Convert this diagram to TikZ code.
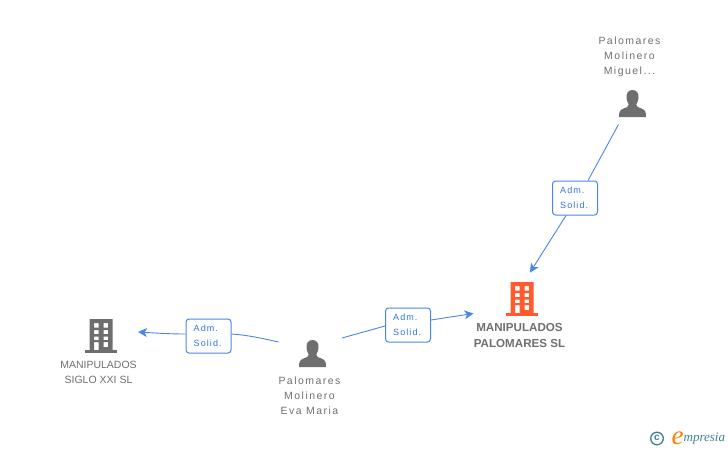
\documentclass[tikz,border=0pt]{standalone}
\usepackage{fontspec}
\setmainfont{Liberation Sans}
\newfontfamily\logofont{Liberation Serif}
\usetikzlibrary{arrows.meta}
\definecolor{linkblue}{HTML}{4A86E8}
\definecolor{roletext}{HTML}{2F74E0}
\definecolor{txtgray}{HTML}{6F6F6F}
\definecolor{icongray}{HTML}{6E6E6E}
\definecolor{orangeb}{HTML}{FF5B2E}
\definecolor{teal}{HTML}{3F7F95}
\tikzset{
  x=1pt,y=-1pt,
  conn/.style={draw=linkblue,line width=0.9pt},
  connarrow/.style={conn,-{Stealth[length=9pt,width=9pt,inset=2.5pt]}},
  rolebox/.style={draw=linkblue,line width=1pt,fill=white,rounded corners=3pt,minimum width=45pt,minimum height=34pt,inner sep=0pt},
  roletxt/.style={inner sep=0pt,anchor=north west,align=left,text=roletext,font=\fontsize{9}{15}\selectfont\addfontfeatures{LetterSpace=12}},
  caption/.style={align=center,inner sep=0pt,text=txtgray,font=\fontsize{10.5}{15}\selectfont\addfontfeatures{LetterSpace=14}},
  captionu/.style={align=center,inner sep=0pt,text=txtgray,font=\fontsize{10.5}{15}\selectfont},
  captionb/.style={align=center,inner sep=0pt,text=txtgray,font=\fontsize{11.6}{15.5}\selectfont\bfseries},
  pics/building/.style={code={
    \fill[#1,even odd rule] (-11.5,-16) rectangle (11.5,15)
      (-7,-12) rectangle (-2.5,-7.5) (2.5,-12) rectangle (7.2,-7.5)
      (-7,-5) rectangle (-2.5,-1) (2.5,-5) rectangle (7.2,-1)
      (-7,1.5) rectangle (-2.5,5) (2.5,1.5) rectangle (7.2,5)
      (-7,7) rectangle (-2.5,15) (2.5,7) rectangle (7.2,12);
    \fill[#1] (-16,15) rectangle (16,18);
  }},
  pics/person/.style={code={
    \fill[icongray] (0,0) .. controls (4.5,0) and (6.2,3.5) .. (6,7.5) .. controls (5.8,11) and (4.5,13) .. (3.8,14.5) .. controls (3.8,17) and (6,17.5) .. (9,18.5) .. controls (12.5,19.8) and (13.5,21.5) .. (13.5,27) -- (-13.5,27) .. controls (-13.5,21.5) and (-12.5,19.8) .. (-9,18.5) .. controls (-6,17.5) and (-3.8,17) .. (-3.8,14.5) .. controls (-4.5,13) and (-5.8,11) .. (-6,7.5) .. controls (-6.2,3.5) and (-4.5,0) .. (0,0) -- cycle;
  }}
}
\begin{document}
\begin{tikzpicture}
\useasboundingbox (0,0) rectangle (728,450);
% icons
\pic at (522,298) {building=orangeb};
\pic at (101,335) {building=icongray};
\pic at (632.5,90) {person};
\pic at (312.5,340) {person};
% captions
\node[caption] (top) at (629.5,56.5) {Palomares\\Molinero\\Miguel...};
\node[caption] (eva) at (309.5,395.5) {Palomares\\Molinero\\Eva Maria};
\node[captionu] (siglo) at (98.5,372.5) {MANIPULADOS\\SIGLO XXI SL};
\node[captionb] (main) at (519.5,335.5) {MANIPULADOS\\PALOMARES SL};
% connector anchors
\coordinate (topFrom) at (618.5,124.5);
\coordinate (topTo) at (530,272.5);
\coordinate (evaToMain) at (342,338);
\coordinate (mainTo) at (473.5,313.5);
\coordinate (evaToSiglo) at (278.5,342);
\coordinate (sigloTo) at (138,332);
% role boxes
\node[rolebox] (b1) at (575,198) {};
\node[rolebox] (b2) at (408,325) {};
\node[rolebox] (b3) at (208.5,336) {};
\node[roletxt] (t1) at (560,187) {Adm.\\Solid.};
\node[roletxt] (t2) at (393,314) {Adm.\\Solid.};
\node[roletxt] (t3) at (193.5,325) {Adm.\\Solid.};
% connectors
\draw[conn] (topFrom) -- ([xshift=13pt]b1.north);
\draw[connarrow] ([xshift=-9pt]b1.south) -- (topTo);
\draw[conn] (evaToMain) -- ([yshift=-1pt]b2.west);
\draw[connarrow] ([yshift=5pt]b2.east) -- (mainTo);
\draw[conn] (evaToSiglo) .. controls (263,338.5) and (247,335) .. ([yshift=2pt]b3.east);
\draw[connarrow] ([yshift=2pt]b3.west) .. controls (170,334) and (155,333) .. (sigloTo);
% logo
\draw[teal,line width=1.3pt] (657,438.5) circle (6.3);
\node[inner sep=0pt,text=teal,font=\bfseries\fontsize{10}{10}\selectfont] (copy) at (657,438) {c};
\node[inner sep=0pt,text=orange,font=\logofont\itshape\fontsize{27}{27}\selectfont] (e) at (677.5,438) {e};
\node[inner sep=0pt,anchor=west,text=teal,font=\logofont\itshape\fontsize{13}{13}\selectfont] (brand) at (683.5,439) {mpresia};
\end{tikzpicture}
\end{document}
